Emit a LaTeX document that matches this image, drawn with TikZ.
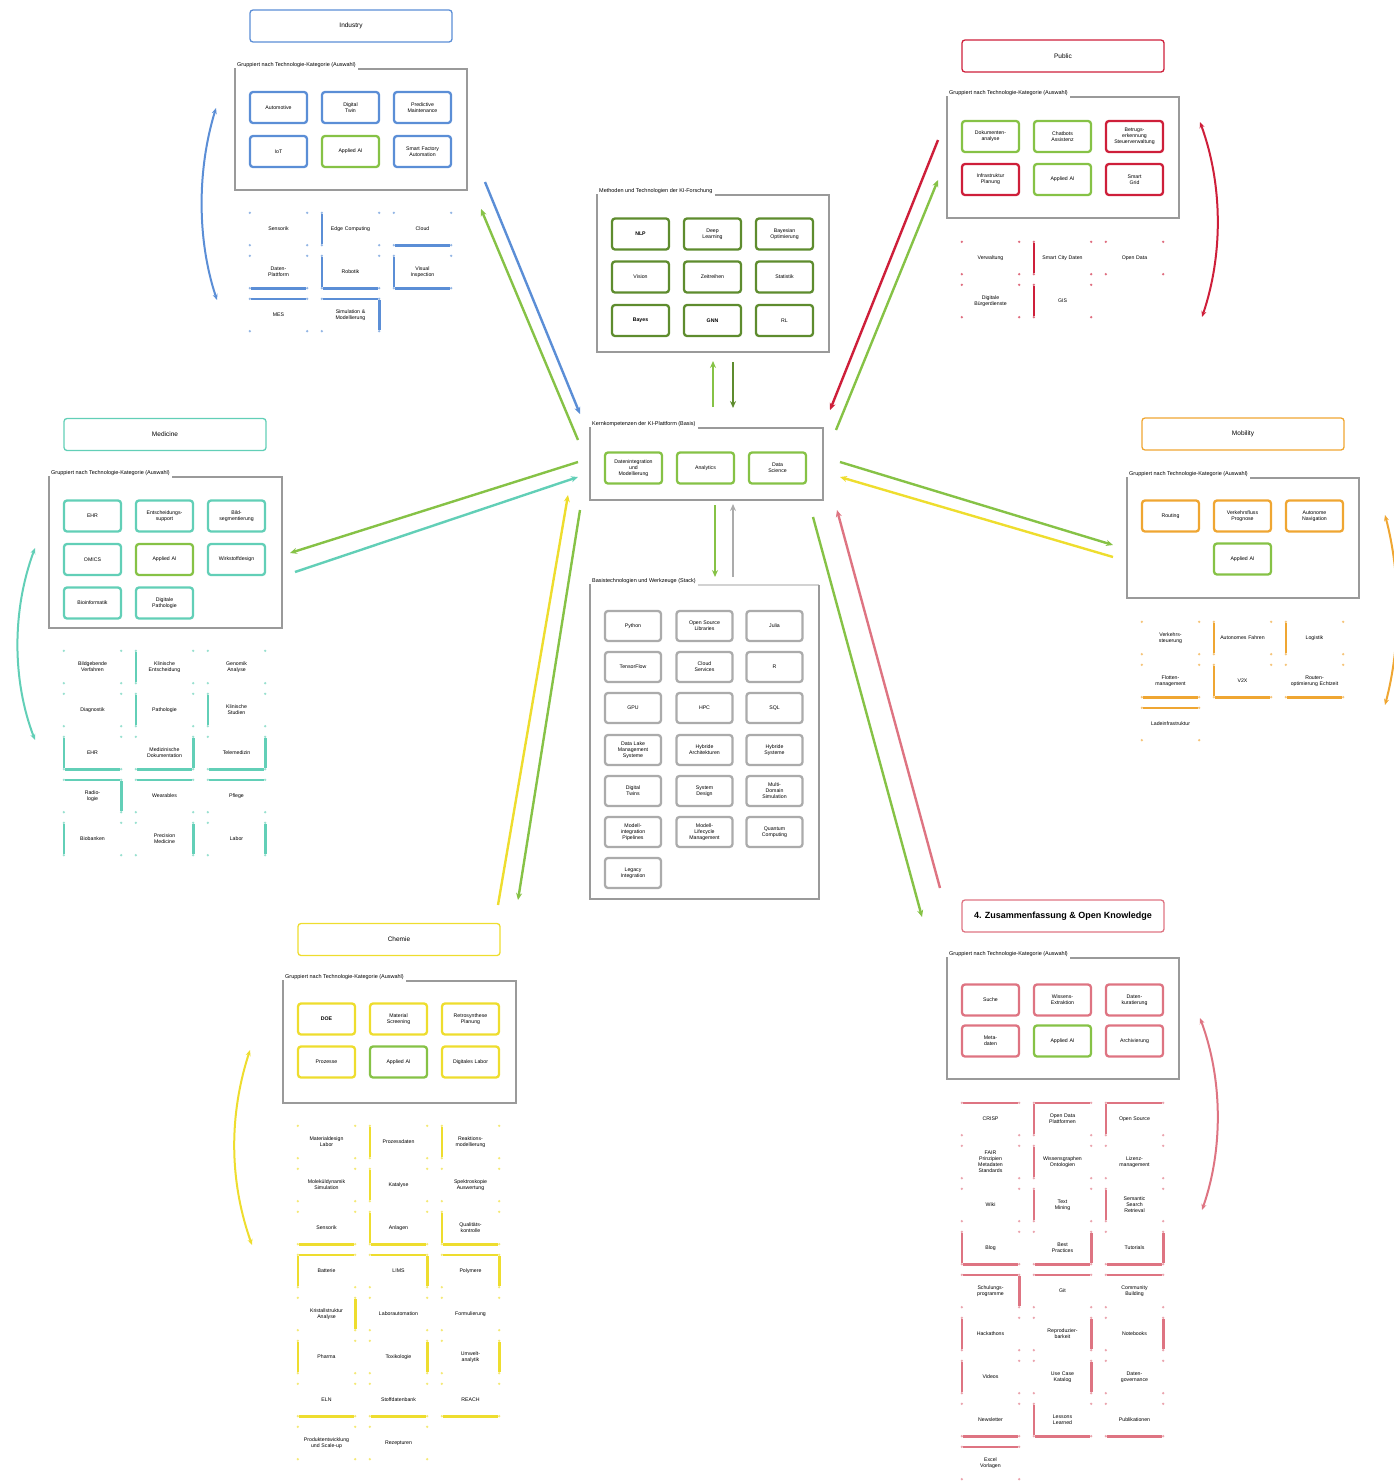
\documentclass[tikz,border=0pt]{standalone}
\usepackage{fontspec}
\setmainfont{Liberation Sans}
\usetikzlibrary{arrows.meta}

\definecolor{cBlue}{HTML}{5B8ED6}
\definecolor{cRed}{HTML}{CE1F3A}
\definecolor{cTeal}{HTML}{62CFB7}
\definecolor{cOrange}{HTML}{EFA632}
\definecolor{cYellow}{HTML}{EEDD2E}
\definecolor{cPink}{HTML}{DE7482}
\definecolor{cGreen}{HTML}{86C246}
\definecolor{cDark}{HTML}{5E8C2E}
\definecolor{cFrame}{HTML}{9A9A9A}
\definecolor{cGray}{HTML}{ABABAB}

% partially outlined cells: corner dots plus selected thick sides
\newcommand\sideL[2]{\draw[sidestroke=#2] (#1.north west) -- (#1.south west);}
\newcommand\sideR[2]{\draw[sidestroke=#2] (#1.north east) -- (#1.south east);}
\newcommand\sideT[2]{\draw[sidestroke=#2] (#1.north west) -- (#1.north east);}
\newcommand\sideB[2]{\draw[sidestroke=#2] (#1.south west) -- (#1.south east);}
\newcommand\sideN[2]{}
\newcommand\sideLB[2]{\sideL{#1}{#2}\sideB{#1}{#2}}
\newcommand\sideRB[2]{\sideR{#1}{#2}\sideB{#1}{#2}}
\newcommand\sideTL[2]{\sideT{#1}{#2}\sideL{#1}{#2}}
\newcommand\sideTR[2]{\sideT{#1}{#2}\sideR{#1}{#2}}

\newcommand\cell[6]{%
  \node[cellnode] (#1) at (#2,#3) {#6};
  \foreach \cn in {north west,north east,south west,south east}
    \fill[#4!65] (#1.\cn) circle (1.3);
  \csname side#5\endcsname{#1}{#4}%
}
% grid of cells below a group: prefix, frame left x, first row y, colour, list
\newcommand\cellgrid[5]{%
  \foreach \r/\c/\s/\t in {#5}{%
    \pgfmathsetmacro\cx{#2+43.5+72*(\c-1)}%
    \pgfmathsetmacro\cy{#3+43*(\r-1)}%
    \cell{#1-\r-\c}{\cx}{\cy}{#4}{\s}{\t}%
  }%
}
% group frame with its label on the top edge: name, x1, y1, x2, y2, label
\newcommand\grpframe[6]{%
  \node[grplabel] (#1) at (#2+1,#3-4) {#6};
  \draw[grpframe] (#1.east) ++(1,4) -- (#4,#3) -- (#4,#5) -- (#2,#5) -- (#2,#3-1);
}

\begin{document}
\begin{tikzpicture}[
  x=1pt, y=-1pt,
  every node/.style={font=\fontsize{5.2}{6}\selectfont, align=center},
  titlebox/.style={draw=#1, line width=1.3, rounded corners=3, minimum width=202, minimum height=32, inner sep=1, font=\fontsize{6.5}{7.5}\selectfont},
  inbox/.style={draw=#1, line width=2.3, rounded corners=3, minimum width=57, minimum height=31, text width=50, inner sep=1},
  graybox/.style={draw=cGray, line width=2.3, rounded corners=3, minimum width=56, minimum height=30, text width=50, inner sep=1},
  cellnode/.style={minimum width=57, minimum height=32, text width=52, inner sep=0},
  grpframe/.style={draw=cFrame, line width=2.5},
  grplabel/.style={anchor=west, inner sep=1, font=\fontsize{5.5}{6}\selectfont},
  sidestroke/.style={draw=#1, line width=2.6, shorten <=1.5, shorten >=1.5},
  link/.style={line width=2.4, -{Stealth[length=7,width=6]}},
  sweep/.style={line width=2, {Stealth[length=6,width=5]}-{Stealth[length=6,width=5]}},
]
\useasboundingbox (0,0) rectangle (1393,1481);

% ---------- connector end points ----------
\coordinate (pB1) at (485,182);  \coordinate (pB2) at (580,414);
\coordinate (pG1) at (578,440);  \coordinate (pG2) at (481,209);
\coordinate (pR1) at (938,140);  \coordinate (pR2) at (830,410);
\coordinate (pG3) at (836,430);  \coordinate (pG4) at (938,180);
\coordinate (pG5) at (840,462);  \coordinate (pG6) at (1113,545);
\coordinate (pY1) at (1113,557); \coordinate (pY2) at (840,477);
\coordinate (pG7) at (578,462);  \coordinate (pG8) at (290,553);
\coordinate (pT1) at (295,572);  \coordinate (pT2) at (578,477);
\coordinate (pY3) at (498,905);  \coordinate (pY4) at (568,495);
\coordinate (pG9) at (580,510);  \coordinate (pG10) at (518,900);
\coordinate (pG11) at (813,517); \coordinate (pG12) at (922,917);
\coordinate (pP1) at (940,888);  \coordinate (pP2) at (837,510);
\coordinate (vA1) at (713,407);  \coordinate (vA2) at (713,361);
\coordinate (vB1) at (733,362);  \coordinate (vB2) at (733,408);
\coordinate (vC1) at (715,505);  \coordinate (vC2) at (715,577);
\coordinate (vD1) at (733,577);  \coordinate (vD2) at (733,504);

% ---------- connectors between hub and groups ----------
\draw[link, cBlue] (pB1) -- (pB2);
\draw[link, cGreen] (pG1) -- (pG2);
\draw[link, cRed] (pR1) -- (pR2);
\draw[link, cGreen] (pG3) -- (pG4);
\draw[link, cGreen] (pG5) -- (pG6);
\draw[link, cYellow] (pY1) -- (pY2);
\draw[link, cGreen] (pG7) -- (pG8);
\draw[link, cTeal] (pT1) -- (pT2);
\draw[link, cYellow] (pY3) -- (pY4);
\draw[link, cGreen] (pG9) -- (pG10);
\draw[link, cGreen] (pG11) -- (pG12);
\draw[link, cPink] (pP1) -- (pP2);
\draw[link, cGreen] (vA1) -- (vA2);
\draw[link, cDark] (vB1) -- (vB2);
\draw[link, cGreen] (vC1) -- (vC2);
\draw[link, cGray] (vD1) -- (vD2);

% ---------- side loops ----------
\coordinate (sB1) at (216,108);  \coordinate (sB2) at (217,300);
\coordinate (sR1) at (1200,122); \coordinate (sR2) at (1202,317);
\coordinate (sT1) at (35,548);   \coordinate (sT2) at (35,740);
\coordinate (sO1) at (1385,515); \coordinate (sO2) at (1385,705);
\coordinate (sY1) at (250,1050); \coordinate (sY2) at (252,1245);
\coordinate (sP1) at (1200,1018);\coordinate (sP2) at (1202,1210);
\draw[sweep, cBlue] (sB1) .. controls (197,170) and (197,240) .. (sB2);
\draw[sweep, cRed] (sR1) .. controls (1223,185) and (1223,255) .. (sR2);
\draw[sweep, cTeal] (sT1) .. controls (12,610) and (12,680) .. (sT2);
\draw[sweep, cOrange] (sO1) .. controls (1401,575) and (1401,645) .. (sO2);
\draw[sweep, cYellow] (sY1) .. controls (229,1115) and (229,1180) .. (sY2);
\draw[sweep, cPink] (sP1) .. controls (1223,1080) and (1223,1150) .. (sP2);

% ---------- central hub ----------
\grpframe{hubL}{590}{428}{823}{500}{Kernkompetenzen der KI-Plattform (Basis)}
\node[inbox=cGreen] (hub1) at (633.5,468) {Datenintegration\\und\\Modellierung};
\node[inbox=cGreen] (hub2) at (705.5,468) {Analytics};
\node[inbox=cGreen] (hub3) at (777.5,468) {Data\\Science};

% ---------- methods (top centre) ----------
\grpframe{metL}{597}{195}{829}{352}{Methoden und Technologien der KI-Forschung}
\node[inbox=cDark] (met11) at (640.5,234) {\bfseries NLP};
\node[inbox=cDark] (met12) at (712.5,234) {Deep\\Learning};
\node[inbox=cDark] (met13) at (784.5,234) {Bayesian\\Optimierung};
\node[inbox=cDark] (met21) at (640.5,277) {Vision};
\node[inbox=cDark] (met22) at (712.5,277) {Zeitreihen};
\node[inbox=cDark] (met23) at (784.5,277) {Statistik};
\node[inbox=cDark] (met31) at (640.5,320.5) {\bfseries Bayes};
\node[inbox=cDark] (met32) at (712.5,320.5) {\bfseries GNN};
\node[inbox=cDark] (met33) at (784.5,320.5) {RL};

% ---------- base technologies (lower centre) ----------
\node[grplabel] (basL) at (591,581) {Basistechnologien und Werkzeuge (Stack)};
\draw[grpframe, draw=cFrame!45] (basL.east) ++(1,4) -- (819,585);
\draw[grpframe] (819,585) -- (819,899) -- (590,899) -- (590,584);
\node[graybox] (bas11) at (633,626) {Python};
\node[graybox] (bas12) at (704.5,626) {Open Source\\Libraries};
\node[graybox] (bas13) at (774.5,626) {Julia};
\node[graybox] (bas21) at (633,667) {TensorFlow};
\node[graybox] (bas22) at (704.5,667) {Cloud\\Services};
\node[graybox] (bas23) at (774.5,667) {R};
\node[graybox] (bas31) at (633,708) {GPU};
\node[graybox] (bas32) at (704.5,708) {HPC};
\node[graybox] (bas33) at (774.5,708) {SQL};
\node[graybox] (bas41) at (633,750) {Data Lake\\Management\\Systeme};
\node[graybox] (bas42) at (704.5,750) {Hybride\\Architekturen};
\node[graybox] (bas43) at (774.5,750) {Hybride\\Systeme};
\node[graybox] (bas51) at (633,791) {Digital\\Twins};
\node[graybox] (bas52) at (704.5,791) {System\\Design};
\node[graybox] (bas53) at (774.5,791) {Multi-\\Domain\\Simulation};
\node[graybox] (bas61) at (633,832) {Modell-\\integration\\Pipelines};
\node[graybox] (bas62) at (704.5,832) {Modell-\\Lifecycle\\Management};
\node[graybox] (bas63) at (774.5,832) {Quantum\\Computing};
\node[graybox] (bas71) at (633,873) {Legacy\\Integration};

% ---------- Industry (top left) ----------
\node[titlebox=cBlue] (indT) at (351,26) {Industry};
\grpframe{indL}{235}{69}{467}{190}{Gruppiert nach Technologie-Kategorie (Auswahl)}
\node[inbox=cBlue] (ind11) at (278.5,107.5) {Automotive};
\node[inbox=cBlue] (ind12) at (350.5,107.5) {Digital\\Twin};
\node[inbox=cBlue] (ind13) at (422.5,107.5) {Predictive\\Maintenance};
\node[inbox=cBlue] (ind21) at (278.5,151.5) {IoT};
\node[inbox=cGreen] (ind22) at (350.5,151.5) {Applied AI};
\node[inbox=cBlue] (ind23) at (422.5,151.5) {Smart Factory\\Automation};
\cellgrid{ind}{235}{229}{cBlue}{%
  1/1/N/Sensorik, 1/2/L/Edge Computing, 1/3/B/Cloud,
  2/1/B/Daten-\\Plattform, 2/2/LB/Robotik, 2/3/LB/Visual\\Inspection,
  3/1/T/MES, 3/2/TR/Simulation \&\\Modellierung}

% ---------- Public (top right) ----------
\node[titlebox=cRed] (pubT) at (1063,56) {Public};
\grpframe{pubL}{947}{97}{1179}{218}{Gruppiert nach Technologie-Kategorie (Auswahl)}
\node[inbox=cGreen] (pub11) at (990.5,136.5) {Dokumenten-\\analyse};
\node[inbox=cGreen] (pub12) at (1062.5,136.5) {Chatbots\\Assistenz};
\node[inbox=cRed] (pub13) at (1134.5,136.5) {Betrugs-\\erkennung\\Steuerverwaltung};
\node[inbox=cRed] (pub21) at (990.5,179.5) {Infrastruktur\\Planung};
\node[inbox=cGreen] (pub22) at (1062.5,179.5) {Applied AI};
\node[inbox=cRed] (pub23) at (1134.5,179.5) {Smart\\Grid};
\cellgrid{pub}{947}{258}{cRed}{%
  1/1/N/Verwaltung, 1/2/L/Smart City Daten, 1/3/N/Open Data,
  2/1/N/Digitale\\Bürgerdienste, 2/2/L/GIS}

% ---------- Medicine (left) ----------
\node[titlebox=cTeal] (medT) at (165,434.5) {Medicine};
\grpframe{medL}{49}{477}{282}{628}{Gruppiert nach Technologie-Kategorie (Auswahl)}
\node[inbox=cTeal] (med11) at (92.5,516) {EHR};
\node[inbox=cTeal] (med12) at (164.5,516) {Entscheidungs-\\support};
\node[inbox=cTeal] (med13) at (236.5,516) {Bild-\\segmentierung};
\node[inbox=cTeal] (med21) at (92.5,559.5) {OMICS};
\node[inbox=cGreen] (med22) at (164.5,559.5) {Applied AI};
\node[inbox=cTeal] (med23) at (236.5,559.5) {Wirkstoffdesign};
\node[inbox=cTeal] (med31) at (92.5,603) {Bioinformatik};
\node[inbox=cTeal] (med32) at (164.5,603) {Digitale\\Pathologie};
\cellgrid{med}{49}{667}{cTeal}{%
  1/1/N/Bildgebende\\Verfahren, 1/2/L/Klinische\\Entscheidung, 1/3/N/Genomik\\Analyse,
  2/1/N/Diagnostik, 2/2/L/Pathologie, 2/3/L/Klinische\\Studien,
  3/1/LB/EHR, 3/2/RB/Medizinische\\Dokumentation, 3/3/RB/Telemedizin,
  4/1/TR/Radio-\\logie, 4/2/T/Wearables, 4/3/T/Pflege,
  5/1/L/Biobanken, 5/2/R/Precision\\Medicine, 5/3/R/Labor}

% ---------- Mobility (right) ----------
\node[titlebox=cOrange] (mobT) at (1243,434) {Mobility};
\grpframe{mobL}{1127}{478}{1359}{598}{Gruppiert nach Technologie-Kategorie (Auswahl)}
\node[inbox=cOrange] (mob11) at (1170.5,516) {Routing};
\node[inbox=cOrange] (mob12) at (1242.5,516) {Verkehrsfluss\\Prognose};
\node[inbox=cOrange] (mob13) at (1314.5,516) {Autonome\\Navigation};
\node[inbox=cGreen] (mob22) at (1242.5,559) {Applied AI};
\cellgrid{mob}{1127}{638}{cOrange}{%
  1/1/N/Verkehrs-\\steuerung, 1/2/L/Autonomes Fahren, 1/3/L/Logistik,
  2/1/B/Flotten-\\management, 2/2/LB/V2X, 2/3/B/Routen-\\optimierung Echtzeit,
  3/1/T/Ladeinfrastruktur}

% ---------- Chemie (bottom left) ----------
\node[titlebox=cYellow] (chmT) at (399,939.5) {Chemie};
\grpframe{chmL}{283}{981}{516}{1103}{Gruppiert nach Technologie-Kategorie (Auswahl)}
\node[inbox=cYellow] (chm11) at (326.5,1019) {\bfseries DOE};
\node[inbox=cYellow] (chm12) at (398.5,1019) {Material\\Screening};
\node[inbox=cYellow] (chm13) at (470.5,1019) {Retrosynthese\\Planung};
\node[inbox=cYellow] (chm21) at (326.5,1062) {Prozesse};
\node[inbox=cGreen] (chm22) at (398.5,1062) {Applied AI};
\node[inbox=cYellow] (chm23) at (470.5,1062) {Digitales Labor};
\cellgrid{chm}{283}{1142}{cYellow}{%
  1/1/N/Materialdesign\\Labor, 1/2/L/Prozessdaten, 1/3/L/Reaktions-\\modellierung,
  2/1/N/Moleküldynamik\\Simulation, 2/2/L/Katalyse, 2/3/N/Spektroskopie\\Auswertung,
  3/1/B/Sensorik, 3/2/LB/Anlagen, 3/3/LB/Qualitäts-\\kontrolle,
  4/1/TL/Batterie, 4/2/TR/LIMS, 4/3/TR/Polymere,
  5/1/R/Kristallstruktur\\Analyse, 5/2/N/Laborautomation, 5/3/N/Formulierung,
  6/1/L/Pharma, 6/2/R/Toxikologie, 6/3/R/Umwelt-\\analytik,
  7/1/B/ELN, 7/2/B/Stoffdatenbank, 7/3/B/REACH,
  8/1/N/Produktentwicklung\\und Scale-up, 8/2/N/Rezepturen}

% ---------- Open Knowledge (bottom right) ----------
\node[titlebox=cPink, font=\fontsize{9}{10}\selectfont\bfseries] (okT) at (1063,916) {4. Zusammenfassung \& Open Knowledge};
\grpframe{okL}{947}{958}{1179}{1079}{Gruppiert nach Technologie-Kategorie (Auswahl)}
\node[inbox=cPink] (ok11) at (990.5,1000) {Suche};
\node[inbox=cPink] (ok12) at (1062.5,1000) {Wissens-\\Extraktion};
\node[inbox=cPink] (ok13) at (1134.5,1000) {Daten-\\kuratierung};
\node[inbox=cPink] (ok21) at (990.5,1041) {Meta-\\daten};
\node[inbox=cGreen] (ok22) at (1062.5,1041) {Applied AI};
\node[inbox=cPink] (ok23) at (1134.5,1041) {Archivierung};
\cellgrid{ok}{947}{1119}{cPink}{%
  1/1/T/CRISP, 1/2/TL/Open Data\\Plattformen, 1/3/TL/Open Source,
  2/1/N/FAIR\\Prinzipien\\Metadaten\\Standards, 2/2/L/Wissensgraphen\\Ontologien, 2/3/N/Lizenz-\\management,
  3/1/N/Wiki, 3/2/L/Text\\Mining, 3/3/L/Semantic\\Search\\Retrieval,
  4/1/LB/Blog, 4/2/RB/Best\\Practices, 4/3/RB/Tutorials,
  5/1/TR/Schulungs-\\programme, 5/2/T/Git, 5/3/T/Community\\Building,
  6/1/L/Hackathons, 6/2/R/Reproduzier-\\barkeit, 6/3/R/Notebooks,
  7/1/L/Videos, 7/2/R/Use Case\\Katalog, 7/3/N/Daten-\\governance,
  8/1/B/Newsletter, 8/2/LB/Lessons\\Learned, 8/3/B/Publikationen,
  9/1/T/Excel\\Vorlagen}

\end{tikzpicture}
\end{document}
